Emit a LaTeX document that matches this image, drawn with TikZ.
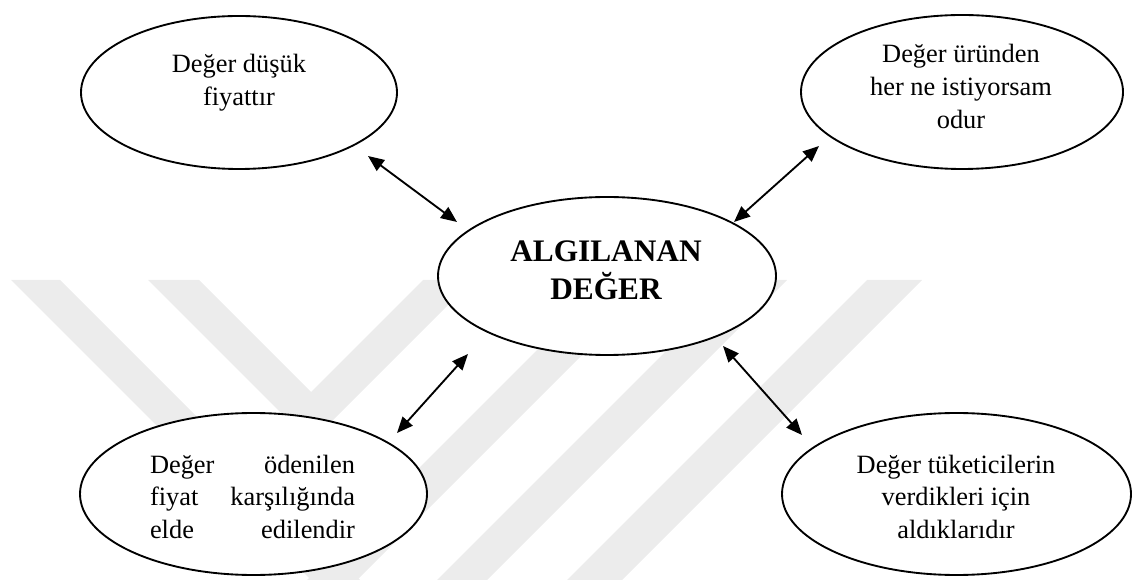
\documentclass[tikz,border=0pt]{standalone}
\usepackage{fontspec}
\setmainfont{Liberation Serif}
\usetikzlibrary{shapes.geometric,arrows.meta}
\newdimen\px \px=0.75pt
\definecolor{wmark}{gray}{0.925}

\begin{document}
\begin{tikzpicture}[x=0.75pt,y=-0.75pt,
  bubble/.style={ellipse,draw=black,line width=1.4pt,fill=white,inner sep=0pt},
  txt/.style={anchor=base,inner sep=0pt,font=\fontsize{19.8}{24.4}\selectfont},
  bigtxt/.style={anchor=base,inner sep=0pt,font=\fontsize{23.5}{28.5}\selectfont\bfseries},
  link/.style={{Triangle[length=12pt,width=10pt]}-{Triangle[length=12pt,width=10pt]},line width=1.4pt},
  band/.style={fill=wmark,draw=none}]

\useasboundingbox (0,0) rectangle (1134,580);

% faint background stripes
\fill[band] (11,280) -- (60,280) -- (360,580) -- (311,580) -- cycle;
\fill[band] (148,280) -- (199,280) -- (311,392) -- (423,280) -- (473,280) -- (310.5,442.5) -- cycle;
\fill[band] (607,280) -- (657,280) -- (357,580) -- (307,580) -- cycle;
\fill[band] (737,280) -- (787,280) -- (487,580) -- (437,580) -- cycle;
\fill[band] (867,280) -- (922,280) -- (622,580) -- (567,580) -- cycle;

% ellipses
\node[bubble,minimum width=316\px,minimum height=153\px] (tl) at (239,92.5) {};
\node[bubble,minimum width=322\px,minimum height=154\px] (tr) at (962,92) {};
\node[bubble,minimum width=338\px,minimum height=158\px] (c) at (607,276) {};
\node[bubble,minimum width=347\px,minimum height=162\px] (bl) at (253.5,494) {};
\node[bubble,minimum width=349\px,minimum height=162\px] (br) at (956.5,494) {};

% texts
\node[txt] (tlt) at (239,73) {\parbox[t]{220\px}{\centering Değer düşük\\fiyattır}};
\node[txt] (trt) at (961,63) {\parbox[t]{240\px}{\centering Değer üründen\\her ne istiyorsam\\odur}};
\node[bigtxt] (ct) at (606,262) {\parbox[t]{260\px}{\centering ALGILANAN\\DEĞER}};
\node[txt] (blt) at (252.5,473) {\parbox[t]{205\px}{%
  \makebox[\linewidth][s]{Değer ödenilen}\\
  \makebox[\linewidth][s]{fiyat karşılığında}\\
  \makebox[\linewidth][s]{elde edilendir}}};
\node[txt] (brt) at (956,473) {\parbox[t]{260\px}{\centering Değer tüketicilerin\\verdikleri için\\aldıklarıdır}};

% arrow ends
\coordinate (tl-o) at (368,156);
\coordinate (c-tl) at (457,222);
\coordinate (tr-o) at (819,146);
\coordinate (c-tr) at (734,222);
\coordinate (c-bl) at (468,354);
\coordinate (bl-o) at (397,433);
\coordinate (c-br) at (723,346);
\coordinate (br-o) at (802,435);

\draw[link] (tl-o) -- (c-tl);
\draw[link] (tr-o) -- (c-tr);
\draw[link] (c-bl) -- (bl-o);
\draw[link] (c-br) -- (br-o);
\end{tikzpicture}
\end{document}
